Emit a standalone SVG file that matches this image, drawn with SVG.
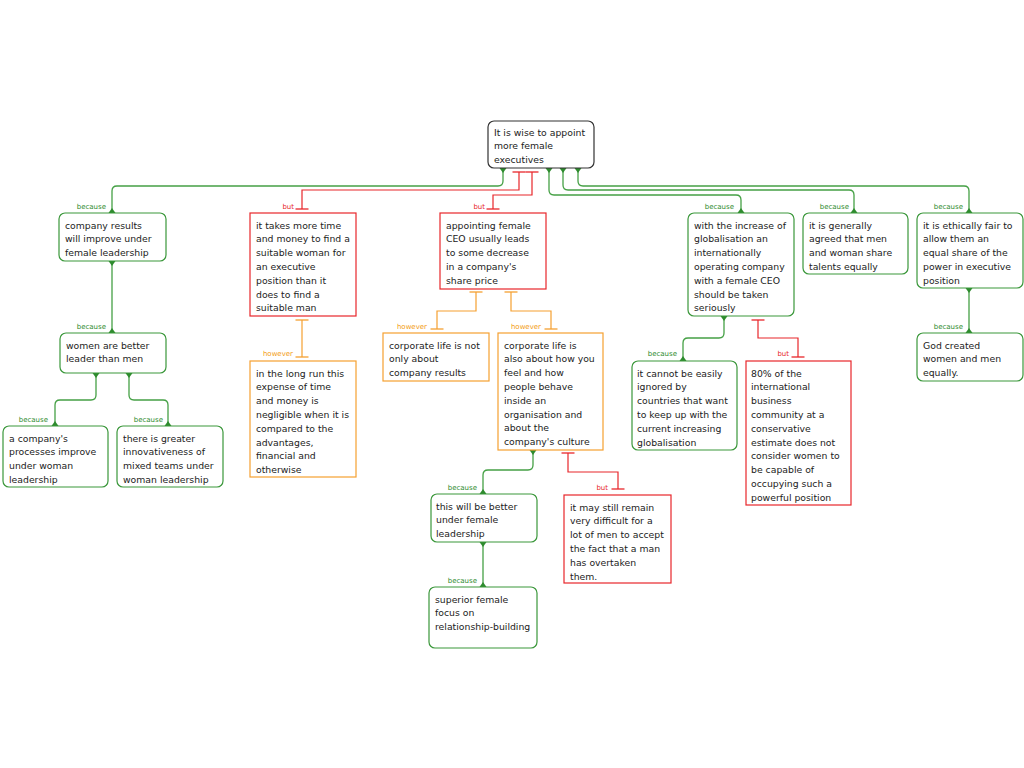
<svg xmlns="http://www.w3.org/2000/svg" width="1024" height="768" viewBox="0 0 1024 768">
<defs>
<style>
.t{font-family:"DejaVu Sans","Liberation Sans",sans-serif;font-size:9.3px;fill:#222}
.lb{font-family:"DejaVu Sans","Liberation Sans",sans-serif;font-size:7px;text-anchor:end}
.lg{fill:#2e8b2e}.lr{fill:#e8262a}.lo{fill:#f39c12}
.bg{fill:#fff;stroke:#3a973a;stroke-width:1.2}
.br{fill:#fff;stroke:#e8262a;stroke-width:1.2}
.bo{fill:#fff;stroke:#f5a030;stroke-width:1.2}
.broot{fill:#fff;stroke:#333;stroke-width:1.2}
.cg{fill:none;stroke:#45a045;stroke-width:1.3;marker-start:url(#fl);marker-end:url(#fl)}
.cr{fill:none;stroke:#e8262a;stroke-width:1.2;marker-start:url(#tr);marker-end:url(#tr)}
.co{fill:none;stroke:#f5a030;stroke-width:1.2;marker-start:url(#to);marker-end:url(#to)}
</style>
<marker id="fl" markerUnits="userSpaceOnUse" markerWidth="12" markerHeight="12" viewBox="-6 -6 12 12" refX="0" refY="0" orient="auto-start-reverse"><path d="M0,-3.5 L0,3.5 L-5,0 z" fill="#2e8b2e"/></marker>
<marker id="tr" markerUnits="userSpaceOnUse" markerWidth="16" markerHeight="16" viewBox="-8 -8 16 16" refX="0" refY="0" orient="auto"><path d="M0,-6.5 L0,6.5" stroke="#e8262a" stroke-width="1.3"/></marker>
<marker id="to" markerUnits="userSpaceOnUse" markerWidth="16" markerHeight="16" viewBox="-8 -8 16 16" refX="0" refY="0" orient="auto"><path d="M0,-6.5 L0,6.5" stroke="#f5a030" stroke-width="1.3"/></marker>
</defs>
<rect width="1024" height="768" fill="#fff"/>
<g id="connectors">
<path class="cg" d="M503,168 V181 Q503,186 498,186 H117 Q112,186 112,191 V213"/>
<path class="cg" d="M549,168 V190 Q549,195 554,195 H736 Q741,195 741,200 V213"/>
<path class="cg" d="M563,168 V185 Q563,190 568,190 H849 Q854,190 854,195 V213"/>
<path class="cg" d="M578,168 V181 Q578,186 583,186 H964 Q969,186 969,191 V213"/>
<path class="cg" d="M112,261 V333"/>
<path class="cg" d="M96,373 V395 Q96,400 91,400 H60 Q55,400 55,405 V426"/>
<path class="cg" d="M129,373 V395 Q129,400 134,400 H163 Q168,400 168,405 V426"/>
<path class="cg" d="M724,316 V333 Q724,338 719,338 H688 Q683,338 683,343 V361"/>
<path class="cg" d="M969,288 V333"/>
<path class="cg" d="M533,450 V465 Q533,470 528,470 H488 Q483,470 483,475 V494"/>
<path class="cg" d="M483,542 V587"/>
<path class="cr" d="M519,172 V190 H302 V209"/>
<path class="cr" d="M532,172 V195 H493 V209"/>
<path class="cr" d="M758,320 V338 H798 V357"/>
<path class="cr" d="M568,453 V472 H618 V489"/>
<path class="co" d="M476,292 V311 H437 V329"/>
<path class="co" d="M511,292 V311 H551 V329"/>
<path class="co" d="M302,320 V357"/>
<text class="lb lg" x="106" y="208.5">because</text>
<text class="lb lr" x="294" y="208.5">but</text>
<text class="lb lr" x="485" y="208.5">but</text>
<text class="lb lg" x="734" y="208.5">because</text>
<text class="lb lg" x="849" y="208.5">because</text>
<text class="lb lg" x="963" y="208.5">because</text>
<text class="lb lg" x="106" y="328.5">because</text>
<text class="lb lg" x="48" y="421.5">because</text>
<text class="lb lg" x="163" y="421.5">because</text>
<text class="lb lo" x="293" y="355.5">however</text>
<text class="lb lo" x="427" y="328.5">however</text>
<text class="lb lo" x="541" y="328.5">however</text>
<text class="lb lg" x="677" y="355.5">because</text>
<text class="lb lr" x="789" y="355.5">but</text>
<text class="lb lg" x="963" y="328.5">because</text>
<text class="lb lg" x="477" y="489.5">because</text>
<text class="lb lg" x="477" y="582.5">because</text>
<text class="lb lr" x="608" y="489.5">but</text>
</g>
<g id="root"><rect class="broot" x="488" y="121" width="106" height="47" rx="6"/>
<text class="t" x="494" y="135.5"><tspan x="494">It is wise to appoint</tspan><tspan x="494" dy="13.8">more female</tspan><tspan x="494" dy="13.8">executives</tspan></text></g>
<g id="n1"><rect class="bg" x="59" y="213" width="107" height="48" rx="6"/>
<text class="t" y="228.5"><tspan x="65">company results</tspan><tspan x="65" dy="13.8">will improve under</tspan><tspan x="65" dy="13.8">female leadership</tspan></text></g>
<g id="n2"><rect class="br" x="250" y="213" width="106" height="103"/>
<text class="t" y="228.5"><tspan x="256">it takes more time</tspan><tspan x="256" dy="13.8">and money to find a</tspan><tspan x="256" dy="13.8">suitable woman for</tspan><tspan x="256" dy="13.8">an executive</tspan><tspan x="256" dy="13.8">position than it</tspan><tspan x="256" dy="13.8">does to find a</tspan><tspan x="256" dy="13.8">suitable man</tspan></text></g>
<g id="n3"><rect class="br" x="440" y="213" width="106" height="76"/>
<text class="t" y="228.5"><tspan x="446">appointing female</tspan><tspan x="446" dy="13.8">CEO usually leads</tspan><tspan x="446" dy="13.8">to some decrease</tspan><tspan x="446" dy="13.8">in a company's</tspan><tspan x="446" dy="13.8">share price</tspan></text></g>
<g id="n4"><rect class="bg" x="688" y="213" width="106" height="103" rx="6"/>
<text class="t" y="228.5"><tspan x="694">with the increase of</tspan><tspan x="694" dy="13.8">globalisation an</tspan><tspan x="694" dy="13.8">internationally</tspan><tspan x="694" dy="13.8">operating company</tspan><tspan x="694" dy="13.8">with a female CEO</tspan><tspan x="694" dy="13.8">should be taken</tspan><tspan x="694" dy="13.8">seriously</tspan></text></g>
<g id="n5"><rect class="bg" x="803" y="213" width="105" height="61" rx="6"/>
<text class="t" y="228.5"><tspan x="809">it is generally</tspan><tspan x="809" dy="13.8">agreed that men</tspan><tspan x="809" dy="13.8">and woman share</tspan><tspan x="809" dy="13.8">talents equally</tspan></text></g>
<g id="n6"><rect class="bg" x="917" y="213" width="106" height="75" rx="6"/>
<text class="t" y="228.5"><tspan x="923">it is ethically fair to</tspan><tspan x="923" dy="13.8">allow them an</tspan><tspan x="923" dy="13.8">equal share of the</tspan><tspan x="923" dy="13.8">power in executive</tspan><tspan x="923" dy="13.8">position</tspan></text></g>
<g id="n7"><rect class="bg" x="60" y="333" width="106" height="40" rx="6"/>
<text class="t" y="348.5"><tspan x="66">women are better</tspan><tspan x="66" dy="13.8">leader than men</tspan></text></g>
<g id="n8"><rect class="bg" x="3" y="426" width="105" height="61" rx="6"/>
<text class="t" y="441.5"><tspan x="9">a company's</tspan><tspan x="9" dy="13.8">processes improve</tspan><tspan x="9" dy="13.8">under woman</tspan><tspan x="9" dy="13.8">leadership</tspan></text></g>
<g id="n9"><rect class="bg" x="117" y="426" width="106" height="61" rx="6"/>
<text class="t" y="441.5"><tspan x="123">there is greater</tspan><tspan x="123" dy="13.8">innovativeness of</tspan><tspan x="123" dy="13.8">mixed teams under</tspan><tspan x="123" dy="13.8">woman leadership</tspan></text></g>
<g id="n10"><rect class="bo" x="250" y="361" width="106" height="116"/>
<text class="t" y="376.5"><tspan x="256">in the long run this</tspan><tspan x="256" dy="13.8">expense of time</tspan><tspan x="256" dy="13.8">and money is</tspan><tspan x="256" dy="13.8">negligible when it is</tspan><tspan x="256" dy="13.8">compared to the</tspan><tspan x="256" dy="13.8">advantages,</tspan><tspan x="256" dy="13.8">financial and</tspan><tspan x="256" dy="13.8">otherwise</tspan></text></g>
<g id="n11"><rect class="bo" x="383" y="333" width="106" height="48"/>
<text class="t" y="348.5"><tspan x="389">corporate life is not</tspan><tspan x="389" dy="13.8">only about</tspan><tspan x="389" dy="13.8">company results</tspan></text></g>
<g id="n12"><rect class="bo" x="498" y="333" width="105" height="117"/>
<text class="t" y="348.5"><tspan x="504">corporate life is</tspan><tspan x="504" dy="13.8">also about how you</tspan><tspan x="504" dy="13.8">feel and how</tspan><tspan x="504" dy="13.8">people behave</tspan><tspan x="504" dy="13.8">inside an</tspan><tspan x="504" dy="13.8">organisation and</tspan><tspan x="504" dy="13.8">about the</tspan><tspan x="504" dy="13.8">company's culture</tspan></text></g>
<g id="n13"><rect class="bg" x="632" y="361" width="105" height="89" rx="6"/>
<text class="t" y="376.5"><tspan x="637">it cannot be easily</tspan><tspan x="637" dy="13.8">ignored by</tspan><tspan x="637" dy="13.8">countries that want</tspan><tspan x="637" dy="13.8">to keep up with the</tspan><tspan x="637" dy="13.8">current increasing</tspan><tspan x="637" dy="13.8">globalisation</tspan></text></g>
<g id="n14"><rect class="br" x="746" y="361" width="105" height="144"/>
<text class="t" y="376.5"><tspan x="751">80% of the</tspan><tspan x="751" dy="13.8">international</tspan><tspan x="751" dy="13.8">business</tspan><tspan x="751" dy="13.8">community at a</tspan><tspan x="751" dy="13.8">conservative</tspan><tspan x="751" dy="13.8">estimate does not</tspan><tspan x="751" dy="13.8">consider women to</tspan><tspan x="751" dy="13.8">be capable of</tspan><tspan x="751" dy="13.8">occupying such a</tspan><tspan x="751" dy="13.8">powerful position</tspan></text></g>
<g id="n15"><rect class="bg" x="917" y="333" width="106" height="48" rx="6"/>
<text class="t" y="348.5"><tspan x="923">God created</tspan><tspan x="923" dy="13.8">women and men</tspan><tspan x="923" dy="13.8">equally.</tspan></text></g>
<g id="n16"><rect class="bg" x="431" y="494" width="106" height="48" rx="6"/>
<text class="t" y="509.5"><tspan x="436">this will be better</tspan><tspan x="436" dy="13.8">under female</tspan><tspan x="436" dy="13.8">leadership</tspan></text></g>
<g id="n17"><rect class="bg" x="429" y="587" width="108" height="61" rx="6"/>
<text class="t" y="602.5"><tspan x="435">superior female</tspan><tspan x="435" dy="13.8">focus on</tspan><tspan x="435" dy="13.8">relationship-building</tspan></text></g>
<g id="n18"><rect class="br" x="564" y="495" width="107" height="88"/>
<text class="t" y="510.5"><tspan x="570">it may still remain</tspan><tspan x="570" dy="13.8">very difficult for a</tspan><tspan x="570" dy="13.8">lot of men to accept</tspan><tspan x="570" dy="13.8">the fact that a man</tspan><tspan x="570" dy="13.8">has overtaken</tspan><tspan x="570" dy="13.8">them.</tspan></text></g>
</svg>
